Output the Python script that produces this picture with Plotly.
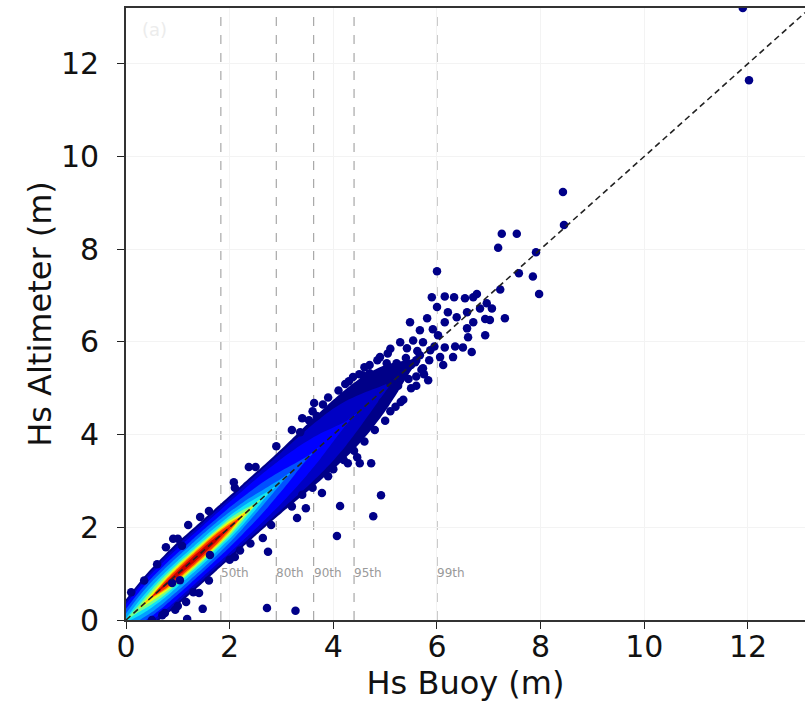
import plotly.graph_objects as go

# ---------------- data ----------------
# Density band profile: along Hs Buoy, vertical half-width
# of each density level around the 1:1 line (Hs Altimeter), in metres.
BAND_X = [0.0, 0.25, 0.5, 0.75, 1.0, 1.25, 1.5, 1.75, 2.0, 2.25, 2.5, 2.75,
          3.0, 3.25, 3.5, 3.75, 4.0, 4.25, 4.5, 4.75, 5.0, 5.25, 5.5, 5.75]
LEVEL_COLORS = ["#000088", "#0000c4", "#0000ff", "#0050ff", "#00a0ff", "#10e4f4",
                "#70ff90", "#e8ff14", "#ffa400", "#ff3400", "#c80000"]
HW_L0 = [0.45, 0.55, 0.62, 0.66, 0.68, 0.68, 0.68, 0.68, 0.68, 0.68, 0.68, 0.68,
         0.69, 0.71, 0.73, 0.74, 0.75, 0.74, 0.70, 0.62, 0.50, 0.32, 0.12, 0.0]
HW_L1 = [0.40, 0.50, 0.57, 0.61, 0.62, 0.62, 0.62, 0.62, 0.62, 0.62, 0.62, 0.62,
         0.62, 0.62, 0.62, 0.60, 0.56, 0.48, 0.36, 0.22, 0.08, 0.0, 0.0, 0.0]
HW_L2 = [0.34, 0.45, 0.51, 0.54, 0.55, 0.55, 0.55, 0.55, 0.55, 0.54, 0.53, 0.51,
         0.48, 0.43, 0.36, 0.27, 0.15, 0.04, 0.0, 0.0, 0.0, 0.0, 0.0, 0.0]
HW_L3 = [0.24, 0.35, 0.41, 0.44, 0.45, 0.45, 0.45, 0.44, 0.43, 0.40, 0.36, 0.30,
         0.22, 0.12, 0.03, 0.0, 0.0, 0.0, 0.0, 0.0, 0.0, 0.0, 0.0, 0.0]
HW_L4 = [0.14, 0.26, 0.33, 0.36, 0.37, 0.37, 0.37, 0.36, 0.33, 0.28, 0.21, 0.13,
         0.05, 0.0, 0.0, 0.0, 0.0, 0.0, 0.0, 0.0, 0.0, 0.0, 0.0, 0.0]
HW_L5 = [0.04, 0.16, 0.23, 0.27, 0.28, 0.28, 0.28, 0.27, 0.25, 0.20, 0.12, 0.03,
         0.0, 0.0, 0.0, 0.0, 0.0, 0.0, 0.0, 0.0, 0.0, 0.0, 0.0, 0.0]
HW_L6 = [0.0, 0.08, 0.16, 0.21, 0.22, 0.22, 0.22, 0.21, 0.19, 0.12, 0.03, 0.0,
         0.0, 0.0, 0.0, 0.0, 0.0, 0.0, 0.0, 0.0, 0.0, 0.0, 0.0, 0.0]
HW_L7 = [0.0, 0.0, 0.09, 0.15, 0.18, 0.18, 0.18, 0.17, 0.14, 0.06, 0.0, 0.0,
         0.0, 0.0, 0.0, 0.0, 0.0, 0.0, 0.0, 0.0, 0.0, 0.0, 0.0, 0.0]
HW_L8 = [0.0, 0.0, 0.03, 0.11, 0.14, 0.15, 0.15, 0.14, 0.10, 0.02, 0.0, 0.0,
         0.0, 0.0, 0.0, 0.0, 0.0, 0.0, 0.0, 0.0, 0.0, 0.0, 0.0, 0.0]
HW_L9 = [0.0, 0.0, 0.0, 0.08, 0.11, 0.12, 0.12, 0.11, 0.06, 0.0, 0.0, 0.0,
         0.0, 0.0, 0.0, 0.0, 0.0, 0.0, 0.0, 0.0, 0.0, 0.0, 0.0, 0.0]
HW_L10 = [0.0, 0.0, 0.0, 0.03, 0.06, 0.07, 0.07, 0.05, 0.01, 0.0, 0.0, 0.0,
          0.0, 0.0, 0.0, 0.0, 0.0, 0.0, 0.0, 0.0, 0.0, 0.0, 0.0, 0.0]
HALF_WIDTHS = [HW_L0, HW_L1, HW_L2, HW_L3, HW_L4, HW_L5, HW_L6, HW_L7, HW_L8, HW_L9, HW_L10]

# Sparse (low density) individual collocations: Hs Buoy, Hs Altimeter
PT_BUOY = [11.90, 12.02, 8.43, 8.45, 7.25, 7.54, 7.18, 7.91, 7.58, 7.85, 7.97, 7.22, 6.00,
           5.90, 6.15, 6.33, 6.54, 6.70, 6.77,
           6.00, 6.21, 6.38, 6.58, 6.83, 6.96, 7.06, 7.31, 6.93, 7.02, 6.70, 6.58, 6.60, 6.93,
           5.48, 5.81, 5.67, 5.92, 6.02, 6.15, 6.15, 6.35, 6.50, 6.67, 6.31, 6.12, 6.06,
           5.29, 5.42, 5.54, 5.73, 5.87, 5.67, 5.58, 5.73, 5.83,
           4.90, 5.05, 5.03, 5.22, 5.38, 4.23, 4.38, 4.57, 4.70,
           2.37, 2.08, 3.63, 4.28, 4.46, 4.51, 4.73, 4.92, 4.77, 4.13, 3.78, 3.47, 3.30,
           3.36, 3.53, 3.68,
           4.07, 2.72, 3.27, 2.74, 2.64, 1.43, 1.20, 0.91, 0.77, 1.08, 1.16, 0.95, 0.75,
           0.89, 1.04, 1.41, 1.62, 2.10, 2.20, 1.48, 1.18,
           0.10, 0.35, 0.60, 1.00, 1.60, 2.10, 2.50, 2.90, 3.20, 3.40, 3.80, 4.10, 4.50, 4.70,
           0.50, 0.70, 1.00, 1.30, 1.60, 2.00, 2.40, 2.80, 3.20, 3.60, 4.00, 4.40, 4.80, 5.10,
           5.20, 5.50, 5.00, 5.35, 5.60, 5.15, 4.95,
           3.60, 3.90, 4.30, 4.60, 4.85, 5.10, 3.40, 3.90, 4.20, 4.60, 5.30, 5.60, 5.75,
           4.90, 5.10, 5.30, 5.50, 5.45, 5.60, 5.70, 5.40, 5.62, 5.85, 5.95, 5.25]
PT_ALT = [13.20, 11.64, 9.23, 8.52, 8.33, 8.33, 8.03, 7.93, 7.48, 7.41, 7.03, 7.13, 7.52,
          6.96, 6.98, 6.96, 6.94, 6.96, 7.03,
          6.75, 6.64, 6.53, 6.64, 6.72, 6.83, 6.72, 6.51, 6.49, 6.47, 6.42, 6.29, 6.10, 6.14,
          6.42, 6.51, 6.25, 6.27, 6.14, 6.42, 5.88, 5.90, 5.88, 5.78, 5.67, 5.50, 5.67,
          5.99, 5.86, 6.03, 5.99, 5.82, 5.71, 5.56, 5.43, 5.17,
          5.67, 5.75, 5.54, 5.54, 5.46, 5.09, 5.24, 5.28, 5.32,
          3.30, 2.97, 4.68, 3.38, 3.51, 3.38, 3.38, 2.69, 2.24, 2.46, 2.74, 2.41, 2.20,
          4.05, 4.31, 4.40,
          1.81, 0.26, 0.20, 1.47, 1.77, 2.22, 2.05, 1.75, 1.57, 1.60, 0.39, 0.22, 0.15,
          0.80, 0.86, 0.58, 1.40, 1.36, 1.50, 0.24, 0.02,
          0.60, 0.85, 1.20, 1.75, 2.35, 2.85, 3.30, 3.75, 4.10, 4.35, 4.65, 4.95, 5.30, 5.50,
          0.00, 0.10, 0.30, 0.60, 0.85, 1.30, 1.65, 2.05, 2.45, 2.85, 3.25, 3.65, 4.10, 4.50,
          4.60, 5.00, 4.30, 4.75, 5.25, 5.10, 4.70,
          4.50, 4.80, 5.15, 5.45, 5.60, 5.85, 2.70, 3.10, 3.45, 3.85, 4.70, 5.05, 5.30,
          5.20, 5.10, 5.30, 5.50, 5.20, 5.60, 5.40, 5.65, 5.80, 5.60, 5.90, 5.05]

PCT_LABELS = ["50th", "80th", "90th", "95th", "99th"]
PCT_VALUES = [1.83, 2.90, 3.62, 4.40, 6.00]

X_TICKS = [0, 2, 4, 6, 8, 10, 12]
Y_TICKS = [0, 2, 4, 6, 8, 10, 12]
X_RANGE = [0, 13.1]
Y_RANGE = [0, 13.2]

# ---------------- figure ----------------
fig = go.Figure()

# percentile lines (behind data)
for v in PCT_VALUES:
    fig.add_shape(type="line", xref="x", yref="y", x0=v, x1=v, y0=Y_RANGE[0], y1=Y_RANGE[1],
                  line=dict(color="#a8a8a8", width=1.2, dash="dash"), layer="below")

# density levels as filled bands
for hw, col in zip(HALF_WIDTHS, LEVEL_COLORS):
    idx = [i for i, w in enumerate(hw) if w > 0]
    lo = max(idx[0] - 1, 0)
    hi = min(idx[-1] + 1, len(hw) - 1)
    xs = BAND_X[lo:hi + 1]
    ws = hw[lo:hi + 1]
    px = xs + xs[::-1]
    py = [x + w for x, w in zip(xs, ws)] + [x - w for x, w in zip(xs[::-1], ws[::-1])]
    fig.add_trace(go.Scatter(x=px, y=py, mode="lines", fill="toself", fillcolor=col,
                             line=dict(width=0, color=col, shape="spline", smoothing=0.8),
                             hoverinfo="skip", showlegend=False))

# sparse points
fig.add_trace(go.Scatter(x=PT_BUOY, y=PT_ALT, mode="markers",
                         marker=dict(color="#000088", size=8.5, line=dict(width=0)),
                         showlegend=False))

# 1:1 line
fig.add_trace(go.Scatter(x=[X_RANGE[0], X_RANGE[1]], y=[X_RANGE[0], X_RANGE[1]], mode="lines",
                         line=dict(color="#222222", width=1.6, dash="6px,4px"),
                         hoverinfo="skip", showlegend=False))

# percentile labels
for lab, v in zip(PCT_LABELS, PCT_VALUES):
    fig.add_annotation(x=v, y=1.01, xref="x", yref="y", text=lab, showarrow=False,
                       xanchor="left", yanchor="middle", xshift=-2,
                       font=dict(family="DejaVu Sans", size=12, color="#9a9a9a"))

# faint panel label
fig.add_annotation(x=0.02, y=0.985, xref="paper", yref="paper", text="(a)", showarrow=False,
                   xanchor="left", yanchor="top",
                   font=dict(family="DejaVu Sans", size=18, color="#ececec"))

axis_font = dict(family="DejaVu Sans", size=30, color="#111111")
title_font = dict(family="DejaVu Sans", size=32, color="#111111")
fig.update_layout(
    width=805, height=709,
    margin=dict(l=126, r=0, t=8, b=89),
    paper_bgcolor="white", plot_bgcolor="white",
    font=dict(family="DejaVu Sans", color="#111111"),
    xaxis=dict(range=X_RANGE, tickvals=X_TICKS, ticks="outside", ticklen=7, tickwidth=1.2,
               tickcolor="#222", showline=True, linecolor="#333", linewidth=1.6, mirror=True,
               showgrid=True, gridcolor="#f3f3f3", gridwidth=1, zeroline=False,
               tickfont=axis_font, automargin=False, ticklabelstandoff=-8,
               title=dict(text="Hs Buoy (m)", font=title_font, standoff=6)),
    yaxis=dict(range=Y_RANGE, tickvals=Y_TICKS, ticks="outside", ticklen=7, tickwidth=1.2,
               tickcolor="#222", showline=True, linecolor="#333", linewidth=1.6, mirror=False,
               showgrid=True, gridcolor="#f3f3f3", gridwidth=1, zeroline=False,
               tickfont=axis_font, automargin=False, ticklabelstandoff=12,
               title=dict(text="Hs Altimeter (m)", font=title_font, standoff=0)),
)

fig.write_html(
    "out.html",
    config={"displayModeBar": False},
    post_script="document.body.style.margin='0';document.body.style.overflow='hidden';",
)
